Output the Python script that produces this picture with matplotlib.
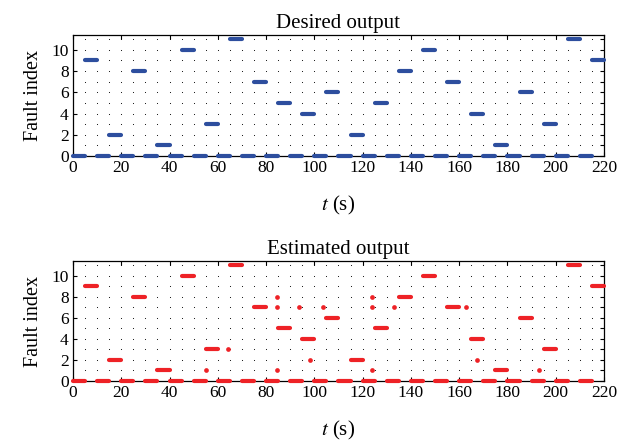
import numpy as np
import matplotlib
matplotlib.use('Agg')
import matplotlib.pyplot as plt
from matplotlib.ticker import MultipleLocator

plt.rcParams['font.family'] = ['Liberation Serif', 'DejaVu Serif']
plt.rcParams['mathtext.fontset'] = 'stix'

# normal operation (index 0) intervals start times, 5 s each
zero_start = [0, 10, 20, 30, 40, 50, 60, 70, 80, 90, 100,
              110, 120, 130, 140, 150, 160, 170, 180, 190, 200, 210]
# fault intervals, 5 s each
fault_start = [5, 15, 25, 35, 45, 55, 65, 75, 85, 95, 105,
               115, 125, 135, 145, 155, 165, 175, 185, 195, 205, 215]
fault_desired = [9, 2, 8, 1, 10, 3, 11, 7, 5, 4, 6,
                 2, 5, 8, 10, 7, 4, 1, 6, 3, 11, 9]
fault_estimated = [9, 2, 8, 1, 10, 3, 11, 7, 5, 4, 6,
                   2, 5, 8, 10, 7, 4, 1, 6, 3, 11, 9]
seg_len = 5

# isolated misclassified samples in the estimate
spur_t = [55.0, 64.3, 84.4, 84.4, 84.4, 93.7, 98.4, 103.7,
          123.8, 123.8, 123.8, 133.1, 162.7, 167.5, 193.0]
spur_f = [1, 3, 8, 7, 1, 7, 2, 7, 8, 7, 1, 7, 7, 2, 1]

blue = '#2d4e9e'
red = '#ee2226'

fig = plt.figure(figsize=(6.33, 4.41), dpi=100)
ax1 = fig.add_axes([0.1153, 0.6463, 0.8389, 0.2743])
ax2 = fig.add_axes([0.1153, 0.1361, 0.8389, 0.2721])


def setup(ax, title):
    ax.set_xlim(0, 220)
    ax.set_ylim(0, 11.4)
    ax.xaxis.set_major_locator(MultipleLocator(20))
    ax.yaxis.set_major_locator(MultipleLocator(2))
    ax.yaxis.set_minor_locator(MultipleLocator(1))
    ax.tick_params(which='both', direction='in', top=True, right=True,
                   length=3, width=0.8, labelsize=12.5, pad=3)
    ax.tick_params(which='minor', left=False, length=3)
    # dotted grid drawn as intersection dots
    gx, gy = np.meshgrid(np.arange(5, 220, 5), np.arange(1, 12, 1))
    ax.scatter(gx.ravel(), gy.ravel(), s=0.6, color='black', lw=0, zorder=1)
    ax.set_title(title, fontsize=15, pad=5)
    ax.set_xlabel('$t$ (s)', fontsize=15, labelpad=13)
    ax.set_ylabel('Fault index', fontsize=14.5, labelpad=6)
    for sp in ax.spines.values():
        sp.set_linewidth(0.9)


def draw(ax, faults, color):
    for t0 in zero_start:
        ax.plot([t0, t0 + seg_len], [0, 0], color=color, lw=3.0,
                solid_capstyle='round', clip_on=False, zorder=5)
    for t0, f in zip(fault_start, faults):
        ax.plot([t0, t0 + seg_len], [f, f], color=color, lw=3.0,
                solid_capstyle='round', clip_on=False, zorder=5)


setup(ax1, 'Desired output')
draw(ax1, fault_desired, blue)

setup(ax2, 'Estimated output')
draw(ax2, fault_estimated, red)
ax2.plot(spur_t, spur_f, 'o', color=red, ms=3.4, mew=0, zorder=5)

fig.savefig('out.png', dpi=100)
